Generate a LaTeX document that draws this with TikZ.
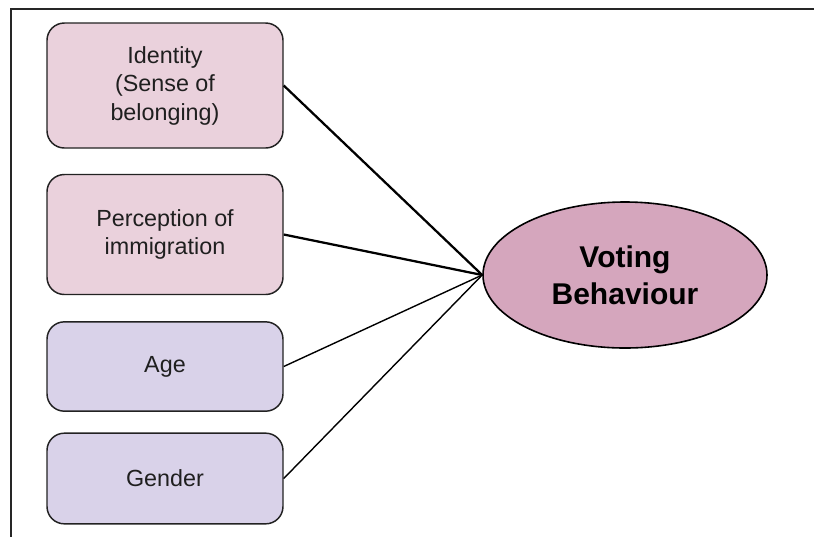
\documentclass[tikz,border=0pt]{standalone}
\usepackage{fontspec}
\setmainfont{Liberation Sans}
\usetikzlibrary{shapes.geometric}
\definecolor{pinkbox}{HTML}{EAD1DC}
\definecolor{lilacbox}{HTML}{D9D2E9}
\definecolor{ellfill}{HTML}{D5A6BD}
\definecolor{edge}{HTML}{222222}
\tikzset{
  factor/.style={draw=edge, line width=1.1pt, rounded corners=13pt,
    minimum width=177pt, minimum height=#1, inner sep=0pt, align=center,
    font=\fontsize{17.5}{21.4}\selectfont, text=black!88},
  outcome/.style={ellipse, draw=black, line width=1.2pt, fill=ellfill,
    minimum width=213pt, minimum height=109.5pt, inner sep=0pt, align=center,
    font=\fontsize{22.5}{27.5}\selectfont\bfseries},
  strong/.style={line width=1.7pt},
  weak/.style={line width=1.05pt},
  frame/.style={line width=1.5pt, draw=black!85}
}
\begin{document}
\begin{tikzpicture}[x=0.75pt,y=-0.75pt]
\useasboundingbox (0,0) rectangle (814,537);
\coordinate (ftop) at (814,9);
\coordinate (fcorner) at (11,9);
\coordinate (fbot) at (11,537);
\draw[frame] (ftop) -- (fcorner) -- (fbot);
\node[factor=93.75pt, fill=pinkbox] (id) at (165,85.5) {Identity\\(Sense of\\belonging)};
\node[factor=90pt, fill=pinkbox] (pi) at (165,234.5) {Perception of\\immigration};
\node[factor=67pt, fill=lilacbox] (age) at (165,366.5) {Age};
\node[factor=68pt, fill=lilacbox] (gen) at (165,478.5) {Gender};
\node[outcome] (vb) at (625,275) {Voting\\Behaviour};
\draw[strong] (id.east) -- (vb.west);
\draw[strong] (pi.east) -- (vb.west);
\draw[weak] (age.east) -- (vb.west);
\draw[weak] (gen.east) -- (vb.west);
\end{tikzpicture}
\end{document}
